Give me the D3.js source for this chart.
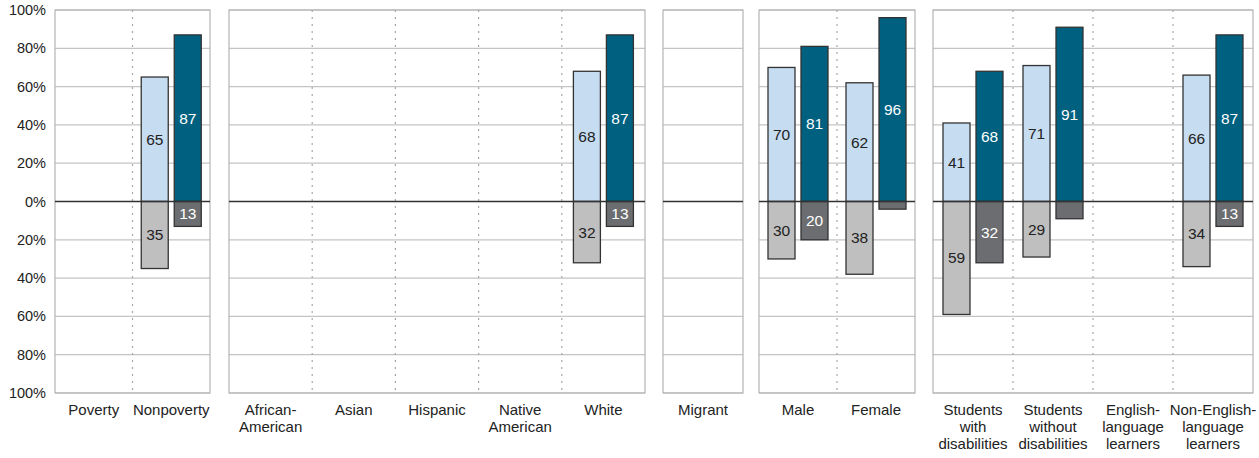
<!DOCTYPE html>
<html>
<head>
<meta charset="utf-8">
<script src="https://cdn.jsdelivr.net/npm/d3@7"></script>
<style>
  body { margin: 0; background: #fff; }
  text { font-family: "Liberation Sans", Arial, sans-serif; }
</style>
</head>
<body>
<div class="canvas"></div>
<script>
// chart data
const categories = ['Poverty', 'Nonpoverty', 'African-American', 'Asian', 'Hispanic', 'Native American', 'White',
  'Migrant', 'Male', 'Female', 'Students with disabilities', 'Students without disabilities',
  'English-language learners', 'Non-English-language learners'];
const categoryLines = [['Poverty'], ['Nonpoverty'], ['African-', 'American'], ['Asian'], ['Hispanic'], ['Native', 'American'], ['White'],
  ['Migrant'], ['Male'], ['Female'], ['Students', 'with', 'disabilities'], ['Students', 'without', 'disabilities'],
  ['English-', 'language', 'learners'], ['Non-English-', 'language', 'learners']];
const panelSizes = [2, 5, 1, 2, 4];

const lightAbove = [null, 65, null, null, null, null, 68, null, 70, 62, 41, 71, null, 66];
const darkAbove  = [null, 87, null, null, null, null, 87, null, 81, 96, 68, 91, null, 87];
const lightBelow = [null, 35, null, null, null, null, 32, null, 30, 38, 59, 29, null, 34];
const darkBelow  = [null, 13, null, null, null, null, 13, null, 20, 4, 32, 9, null, 13];

const yTicks = [-100, -80, -60, -40, -20, 0, 20, 40, 60, 80, 100];

// layout
const dimension = { width: 1259, height: 458 };
const panelEdges = [[55, 210], [229, 645], [663, 743], [759, 915], [933, 1253]];
const barWidth = 27;
const barGap = 6;

const colors = {
  lightAbove: '#c6dcf1',
  darkAbove: '#00607f',
  lightBelow: '#bfbfbf',
  darkBelow: '#6c6d70'
};

const svg = d3
  .select('.canvas')
  .append('svg')
  .attr('width', dimension.width)
  .attr('height', dimension.height);

const y = d3.scaleLinear().domain([-100, 100]).range([393, 10]);

// y axis labels
svg.append('g')
  .selectAll('text')
  .data(yTicks)
  .enter()
  .append('text')
  .attr('x', 46)
  .attr('y', d => y(d))
  .attr('dy', '0.35em')
  .attr('text-anchor', 'end')
  .attr('font-size', 14.5)
  .attr('fill', '#222')
  .text(d => Math.abs(d) + '%');

// build panels
let start = 0;
panelSizes.forEach((size, p) => {
  const idx = d3.range(start, start + size);
  start += size;
  const [x0, x1] = panelEdges[p];
  const x = d3.scaleBand().domain(idx).range([x0, x1]);
  const g = svg.append('g');

  // horizontal gridlines
  g.selectAll('line.grid')
    .data(yTicks.filter(t => t !== 0))
    .enter()
    .append('line')
    .attr('x1', x0).attr('x2', x1)
    .attr('y1', d => y(d)).attr('y2', d => y(d))
    .attr('stroke', '#c4c4c4')
    .attr('stroke-width', 1.2);

  // panel border
  g.append('rect')
    .attr('x', x0).attr('y', y(100))
    .attr('width', x1 - x0).attr('height', y(-100) - y(100))
    .attr('fill', 'none')
    .attr('stroke', '#b4b4b4')
    .attr('stroke-width', 1.2);

  // dotted dividers
  g.selectAll('line.div')
    .data(idx.slice(1))
    .enter()
    .append('line')
    .attr('x1', d => x(d)).attr('x2', d => x(d))
    .attr('y1', y(100)).attr('y2', y(-100))
    .attr('stroke', '#a8a8a8')
    .attr('stroke-width', 1.2)
    .attr('stroke-dasharray', '2,5');

  // bars
  const center = d => x(d) + x.bandwidth() / 2;
  const series = [
    { vals: lightAbove, side: -1, up: true, fill: colors.lightAbove, txt: '#222' },
    { vals: darkAbove, side: 1, up: true, fill: colors.darkAbove, txt: '#fff' },
    { vals: lightBelow, side: -1, up: false, fill: colors.lightBelow, txt: '#222' },
    { vals: darkBelow, side: 1, up: false, fill: colors.darkBelow, txt: '#fff' }
  ];
  series.forEach(s => {
    const data = idx.filter(i => s.vals[i] != null);
    const bx = i => s.side < 0 ? center(i) - barGap / 2 - barWidth : center(i) + barGap / 2;
    const top = i => s.up ? y(s.vals[i]) : y(0);
    const h = i => Math.abs(y(s.vals[i]) - y(0));
    g.selectAll(null)
      .data(data)
      .enter()
      .append('rect')
      .attr('x', bx)
      .attr('y', top)
      .attr('width', barWidth)
      .attr('height', h)
      .attr('fill', s.fill)
      .attr('stroke', '#333')
      .attr('stroke-width', 1.3);
    g.selectAll(null)
      .data(data.filter(i => s.vals[i] >= 10))
      .enter()
      .append('text')
      .attr('x', i => bx(i) + barWidth / 2)
      .attr('y', i => top(i) + h(i) / 2)
      .attr('dy', '0.35em')
      .attr('text-anchor', 'middle')
      .attr('font-size', 15.5)
      .attr('fill', s.txt)
      .text(i => s.vals[i]);
  });

  // zero line
  g.append('line')
    .attr('x1', x0).attr('x2', x1)
    .attr('y1', y(0)).attr('y2', y(0))
    .attr('stroke', '#333')
    .attr('stroke-width', 1.5);

  // category labels
  const labels = g.selectAll('text.cat')
    .data(idx)
    .enter()
    .append('text')
    .attr('text-anchor', 'middle')
    .attr('font-size', 15)
    .attr('fill', '#222');
  labels.each(function(i) {
    d3.select(this)
      .selectAll('tspan')
      .data(categoryLines[i])
      .enter()
      .append('tspan')
      .attr('x', center(i))
      .attr('y', (d, k) => 415 + k * 17)
      .text(d => d);
  });
});
</script>
</body>
</html>
